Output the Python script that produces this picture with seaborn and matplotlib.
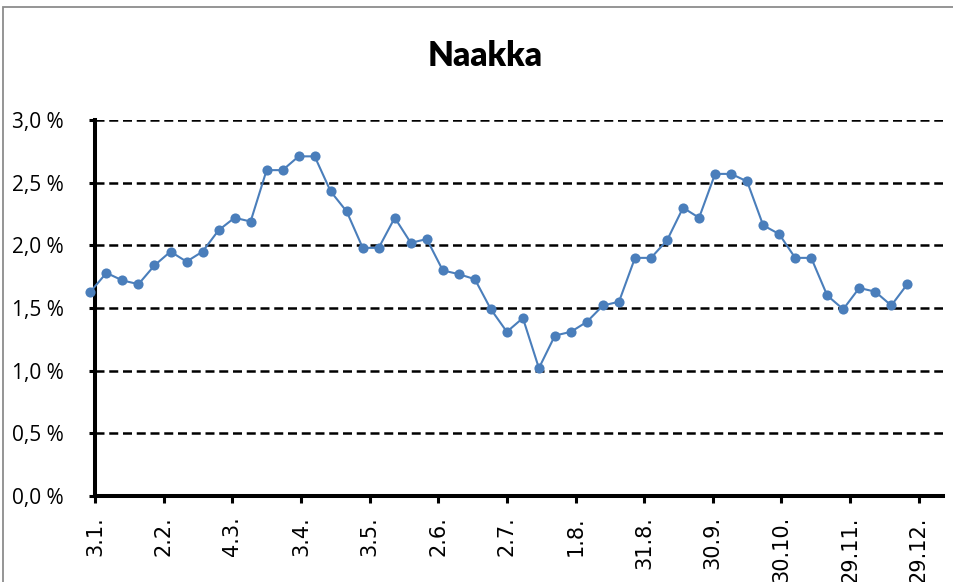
import pandas as pd
import numpy as np
import matplotlib.pyplot as plt
import matplotlib.patches as mpatches
import seaborn as sns

sns.set_style('white')
plt.rcParams['font.family'] = ['Lato', 'DejaVu Sans']
plt.rcParams['text.color'] = 'black'

# --- data: weekly share (%) ---
week_start = '2019-01-01'
share = [1.63, 1.78, 1.72, 1.69, 1.84, 1.95, 1.87, 1.95, 2.12, 2.22,
         2.19, 2.60, 2.60, 2.71, 2.71, 2.43, 2.27, 1.98, 1.98, 2.22,
         2.02, 2.05, 1.80, 1.77, 1.73, 1.49, 1.31, 1.42, 1.02, 1.28,
         1.31, 1.39, 1.52, 1.55, 1.90, 1.90, 2.04, 2.30, 2.22, 2.57,
         2.57, 2.51, 2.16, 2.09, 1.90, 1.90, 1.60, 1.49, 1.66, 1.63,
         1.52, 1.69]
x_labels = ['3.1.', '2.2.', '4.3.', '3.4.', '3.5.', '2.6.', '2.7.',
            '1.8.', '31.8.', '30.9.', '30.10.', '29.11.', '29.12.']
y_values = [0.0, 0.5, 1.0, 1.5, 2.0, 2.5, 3.0]
y_labels = ['0,0 %', '0,5 %', '1,0 %', '1,5 %', '2,0 %', '2,5 %', '3,0 %']

df = pd.DataFrame({
    'date': pd.date_range(week_start, periods=len(share), freq='7D'),
    'share': share,
})
tick_dates = pd.date_range('2019-01-03', periods=len(x_labels), freq='30D')

W, H = 954, 582
fig = plt.figure(figsize=(W / 100, H / 100), dpi=100)
ax = fig.add_axes([95 / W, 1 - 496 / H, (943 - 95) / W, (496 - 120) / H])

blue = '#4A7EBB'
sns.lineplot(data=df, x='date', y='share', ax=ax, color=blue, linewidth=1.5,
             marker='o', markersize=7.3, markeredgecolor=blue,
             markeredgewidth=0, clip_on=False, zorder=5)

# axes ranges
ax.set_ylim(0, 3.0)
ax.set_xlim(tick_dates[0], tick_dates[0] + pd.Timedelta(days=370.6))

# y axis
ax.set_yticks(y_values)
ax.set_yticklabels(y_labels, fontsize=15, family='Open Sans', color='black')
ax.yaxis.grid(True, color='black', linestyle=(0, (3.6, 1.9)), linewidth=1.8)
ax.xaxis.grid(False)
ax.set_axisbelow(True)

# x axis
ax.set_xticks(tick_dates)
ax.set_xticklabels(x_labels, rotation=90, fontsize=15, family='DejaVu Sans',
                   ha='center', va='top', color='black')

ax.set_xlabel('')
ax.set_ylabel('')
for side in ['top', 'right']:
    ax.spines[side].set_visible(False)
for side in ['left', 'bottom']:
    ax.spines[side].set_linewidth(2.9)
    ax.spines[side].set_color('black')
ax.tick_params(axis='y', direction='out', length=4.5, width=2.2, pad=18,
               colors='black', left=True)
ax.tick_params(axis='x', direction='out', length=5, width=2.2, pad=9.5,
               colors='black', bottom=True)

# title
fig.text(485 / W, 1 - 66.5 / H, 'Naakka', ha='center', va='baseline',
         fontsize=24, fontweight='heavy', family='Lato', color='black')

# chart area border (cropped at right and bottom)
fig.add_artist(mpatches.Rectangle((3 / W, -0.1), 1.2, 1.1 - 7 / H,
                                  transform=fig.transFigure, fill=False,
                                  edgecolor='#8c8c8c', linewidth=1.3))

plt.savefig('out.png', dpi=100)
